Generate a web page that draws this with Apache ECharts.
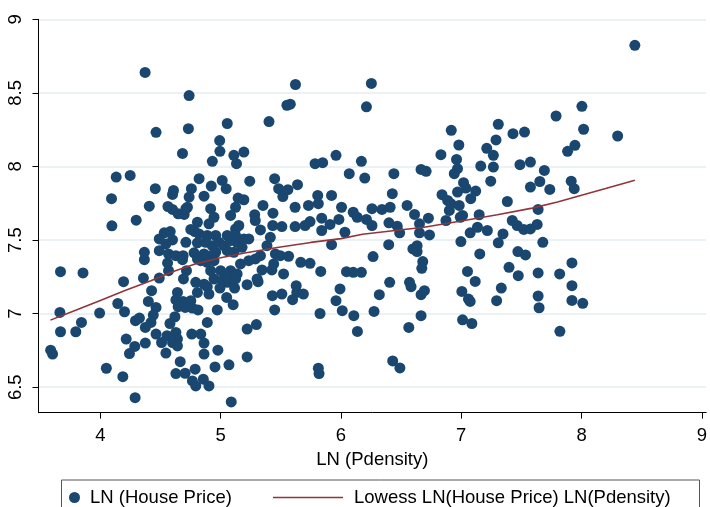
<!DOCTYPE html>
<html>
<head>
<meta charset="utf-8">
<script src="https://cdn.jsdelivr.net/npm/echarts@6.0.0/dist/echarts.min.js"></script>
<style>
html, body { margin: 0; padding: 0; background: #ffffff; }
#chart { width: 710px; height: 507px; }
</style>
</head>
<body>
<div id="chart"></div>
<script>
// log population density (x) and log house price (y), one entry per observation
const lnPdensity = [
  4.372,4.738,4.463,4.732,5.622,5.551,5.579,5.055,5.402,4.992,6.212,
  6.253,6.917,7.308,6.980,7.289,7.430,7.526,7.212,
  8.443,8.003,7.788,8.017,8.300,7.945,
  4.683,4.132,4.248,4.457,4.608,4.600,4.757,4.738,4.724,4.093,4.407,4.562,4.600,4.647,4.697,4.711,
  4.298,4.096,4.807,4.531,4.581,4.490,4.600,4.545,4.752,4.785,4.711,4.807,4.366,4.366,4.490,4.567,
  4.628,4.688,4.559,4.683,4.779,4.807,4.567,4.716,3.669,3.856,4.193,4.358,4.490,4.691,4.793,
  4.426,4.641,4.807,4.145,4.201,4.399,4.463,4.440,4.628,4.688,4.752,4.647,4.705,4.765,4.620,4.579,
  3.664,3.994,3.669,3.796,3.843,4.292,4.325,4.374,4.421,4.463,4.554,4.628,4.641,4.509,4.600,4.641,
  4.760,4.215,4.286,4.242,4.374,4.545,3.587,3.603,4.664,4.628,4.705,4.788,4.765,4.793,4.050,4.187,4.289,
  4.889,4.903,4.862,4.994,5.055,5.116,5.220,5.311,5.050,5.104,4.972,4.812,4.889,4.835,4.862,4.862,
  4.977,4.953,5.069,4.856,4.903,5.088,5.220,5.297,5.220,5.430,5.509,5.449,5.628,5.633,5.598,5.688,
  5.826,5.812,5.818,5.992,5.959,6.011,6.107,6.137,
  6.405,6.570,6.583,6.319,6.275,6.666,6.694,6.666,6.564,6.430,6.490,7.005,7.060,7.074,7.116,7.011,
  7.088,7.333,7.294,
  4.994,4.931,5.110,5.132,5.193,4.821,5.013,5.046,4.922,5.242,4.862,5.145,5.193,5.124,5.083,4.917,
  4.945,4.903,5.449,5.482,5.517,5.559,5.639,5.352,5.283,5.288,5.435,5.151,5.124,5.331,5.433,5.509,
  5.619,5.730,5.807,5.812,5.619,5.702,5.743,5.840,5.840,5.922,5.909,5.983,6.005,6.102,6.135,6.033,
  5.922,5.785,5.848,5.959,6.069,6.170,5.441,5.455,5.496,5.565,5.413,5.385,5.666,5.743,5.832,5.523,
  5.426,5.344,6.046,6.102,6.170,4.821,4.889,4.959,4.876,4.931,4.986,5.055,5.083,5.124,5.137,5.193,
  5.234,5.178,5.027,5.055,5.110,4.862,4.917,4.959,4.835,4.889,4.945,5.165,5.234,5.289,5.331,4.917,
  5.000,5.083,5.137,4.945,5.013,5.055,5.124,5.303,
  6.198,6.440,6.666,6.708,6.831,6.961,6.969,6.942,7.267,7.162,7.267,7.245,7.488,7.575,7.575,6.427,
  6.258,6.341,6.409,6.212,6.258,6.550,6.612,6.727,6.399,6.468,6.488,6.653,6.653,6.736,6.840,6.887,
  6.914,6.983,6.901,6.969,7.019,7.038,7.120,7.079,6.873,6.992,7.011,7.149,7.074,7.135,7.217,6.997,
  7.383,7.424,7.465,7.520,7.575,7.347,7.308,6.397,6.598,6.633,6.633,6.267,6.680,6.672,7.154,7.471,
  7.534,7.397,7.052,7.474,
  7.884,7.691,7.653,7.736,7.914,7.939,7.639,7.631,7.678,7.920,7.639,7.818,
  7.639,7.647,7.920,7.920,8.010,7.820
];
const lnHousePrice = [
  8.639,8.482,8.232,8.257,8.557,8.416,8.423,8.292,8.305,8.176,8.405,
  8.564,8.246,8.287,8.146,8.180,8.223,8.234,8.123,
  8.823,8.409,8.343,8.253,8.207,8.144,
  8.089,7.928,7.939,7.849,7.837,7.810,7.849,7.792,7.723,7.781,7.730,7.728,7.708,7.678,7.674,7.713,
  7.635,7.597,7.621,7.549,7.558,7.508,7.501,7.474,7.572,7.558,7.485,7.481,7.417,7.367,7.428,7.406,
  7.394,7.394,7.345,7.367,7.413,7.372,7.292,7.292,7.285,7.277,7.217,7.242,7.242,7.236,7.213,
  7.156,7.144,7.144,7.069,7.013,7.083,7.042,6.990,7.093,7.083,7.088,7.047,7.042,7.038,6.979,6.933,
  7.008,7.004,6.877,6.877,6.940,6.952,6.970,6.906,6.940,6.861,6.850,6.872,6.827,6.804,6.804,6.781,
  6.861,6.827,6.777,6.729,6.800,6.732,6.752,6.725,6.674,6.593,6.595,6.623,6.543,6.509,6.629,6.572,6.429,
  7.183,7.133,7.200,7.174,7.213,7.174,7.197,7.217,7.110,7.061,7.025,7.025,6.940,6.861,6.800,6.725,
  6.752,6.638,6.652,6.555,6.509,6.400,6.895,6.926,6.706,7.122,7.133,7.025,7.190,7.144,7.095,7.133,
  7.001,6.629,6.593,7.168,7.088,7.020,6.986,6.879,
  7.213,7.213,7.183,7.129,7.015,7.129,7.156,6.986,6.906,6.679,6.631,7.151,7.099,7.083,7.219,6.958,
  6.933,7.174,7.088,
  8.103,8.035,8.076,8.019,8.098,7.917,7.905,7.849,7.867,7.900,7.798,7.785,7.774,7.723,7.667,7.713,
  7.655,7.610,7.917,7.849,7.796,7.842,7.876,7.735,7.672,7.633,7.683,7.599,7.576,7.569,7.599,7.592,
  7.723,7.735,7.803,7.747,7.592,7.599,7.626,7.649,7.565,7.803,7.606,7.640,7.723,7.689,7.655,7.553,
  7.469,8.019,8.026,8.076,7.951,8.035,7.338,7.406,7.394,7.390,7.519,7.462,7.349,7.342,7.287,7.270,
  7.297,7.297,7.285,7.281,7.281,7.542,7.531,7.531,7.485,7.462,7.485,7.531,7.497,7.531,7.485,7.508,
  7.508,7.451,7.462,7.428,7.417,7.406,7.394,7.417,7.360,7.349,7.360,7.338,7.360,7.372,7.394,7.292,
  7.292,7.292,7.270,7.236,7.224,7.247,7.236,7.236,
  7.921,7.951,7.980,7.967,8.080,8.048,7.985,7.951,8.076,8.003,7.996,7.900,8.012,8.030,7.860,7.815,
  7.713,7.708,7.723,7.640,7.599,7.735,7.674,7.649,7.617,7.594,7.549,7.610,7.549,7.535,7.808,7.769,
  7.747,7.735,7.701,7.826,7.890,7.853,7.833,7.781,7.633,7.655,7.667,7.672,7.549,7.587,7.565,7.490,
  7.762,7.633,7.599,7.572,7.576,7.542,7.481,7.469,7.440,7.462,7.422,7.388,7.354,7.308,7.406,7.422,
  7.399,7.315,7.287,7.258,
  8.103,7.973,7.898,7.844,7.900,7.849,7.708,7.606,7.485,7.345,7.277,7.270,
  7.120,7.040,7.190,7.090,7.070,6.880
];

// lowess smooth of house price on population density
const lowessX = [3.585, 3.80, 4.00, 4.20, 4.42, 4.60, 4.80, 5.00, 5.20, 5.47, 5.75, 6.00, 6.18, 6.45, 6.69, 7.00, 7.30, 7.59, 7.80, 8.00, 8.20, 8.443];
const lowessY = [6.956, 7.025, 7.090, 7.155, 7.224, 7.285, 7.340, 7.380, 7.412, 7.450, 7.484, 7.510, 7.540, 7.565, 7.587, 7.630, 7.672, 7.717, 7.758, 7.805, 7.850, 7.907];

const xTicks = [4, 5, 6, 7, 8, 9];
const yTicks = [6.5, 7, 7.5, 8, 8.5, 9];

const scatterName = 'LN (House Price)';
const lowessName = 'Lowess LN(House Price) LN(Pdensity)';

const FONT = '"Liberation Sans", Arial, Helvetica, sans-serif';
const NAVY = '#1a476f';
const MAROON = '#90353b';

const chart = echarts.init(document.getElementById('chart'), null, { renderer: 'canvas' });

const scatterData = lnPdensity.map((x, i) => [x, lnHousePrice[i]]);
const lowessData = lowessX.map((x, i) => [x, lowessY[i]]);

chart.setOption({
  animation: false,
  backgroundColor: '#ffffff',
  grid: { left: 38.5, right: 0, top: 19.3, bottom: 94.3, containLabel: false },
  xAxis: {
    type: 'value',
    min: 3.486,
    max: 9.036,
    name: 'LN (Pdensity)',
    nameLocation: 'middle',
    nameGap: 35,
    nameTextStyle: { fontFamily: FONT, fontSize: 18.5, color: '#000' },
    axisLine: { show: true, onZero: false, lineStyle: { color: '#000', width: 1 } },
    axisTick: { show: true, length: 6, customValues: xTicks, lineStyle: { color: '#000', width: 1 } },
    axisLabel: { customValues: xTicks, margin: 14, fontFamily: FONT, fontSize: 18.5, color: '#000' },
    splitLine: { show: false }
  },
  yAxis: {
    type: 'value',
    min: 6.327,
    max: 9,
    axisLine: { show: true, onZero: false, lineStyle: { color: '#000', width: 1 } },
    axisTick: { show: true, length: 6, customValues: yTicks, lineStyle: { color: '#000', width: 1 } },
    axisLabel: {
      customValues: yTicks, rotate: 90, margin: 13,
      fontFamily: FONT, fontSize: 18.5, color: '#000',
      formatter: v => String(v)
    },
    splitLine: { show: true, lineStyle: { color: '#e6eef1', width: 1.5 } }
  },
  legend: [
    {
      left: 64, top: 483, orient: 'horizontal', icon: 'circle',
      itemWidth: 11, itemHeight: 11,
      textStyle: { fontFamily: FONT, fontSize: 18.5, color: '#000', padding: [0, 0, 0, 5] },
      data: [scatterName], selectedMode: false
    },
    {
      left: 268, top: 483, orient: 'horizontal', icon: 'rect',
      itemWidth: 70, itemHeight: 1.5,
      textStyle: { fontFamily: FONT, fontSize: 18.5, color: '#000', padding: [0, 0, 0, 6] },
      data: [lowessName], selectedMode: false
    }
  ],
  graphic: [
    {
      type: 'rect', left: 61, top: 479.5, z: -1,
      shape: { width: 638, height: 40 },
      style: { fill: '#ffffff', stroke: '#555555', lineWidth: 1 }
    }
  ],
  series: [
    {
      name: scatterName,
      type: 'scatter',
      data: scatterData,
      symbol: 'circle',
      symbolSize: 11,
      itemStyle: { color: NAVY, opacity: 1 },
      z: 2
    },
    {
      name: lowessName,
      type: 'line',
      data: lowessData,
      showSymbol: false,
      symbol: 'none',
      smooth: false,
      lineStyle: { color: MAROON, width: 1.6 },
      itemStyle: { color: MAROON },
      z: 3
    }
  ]
});
</script>
</body>
</html>
